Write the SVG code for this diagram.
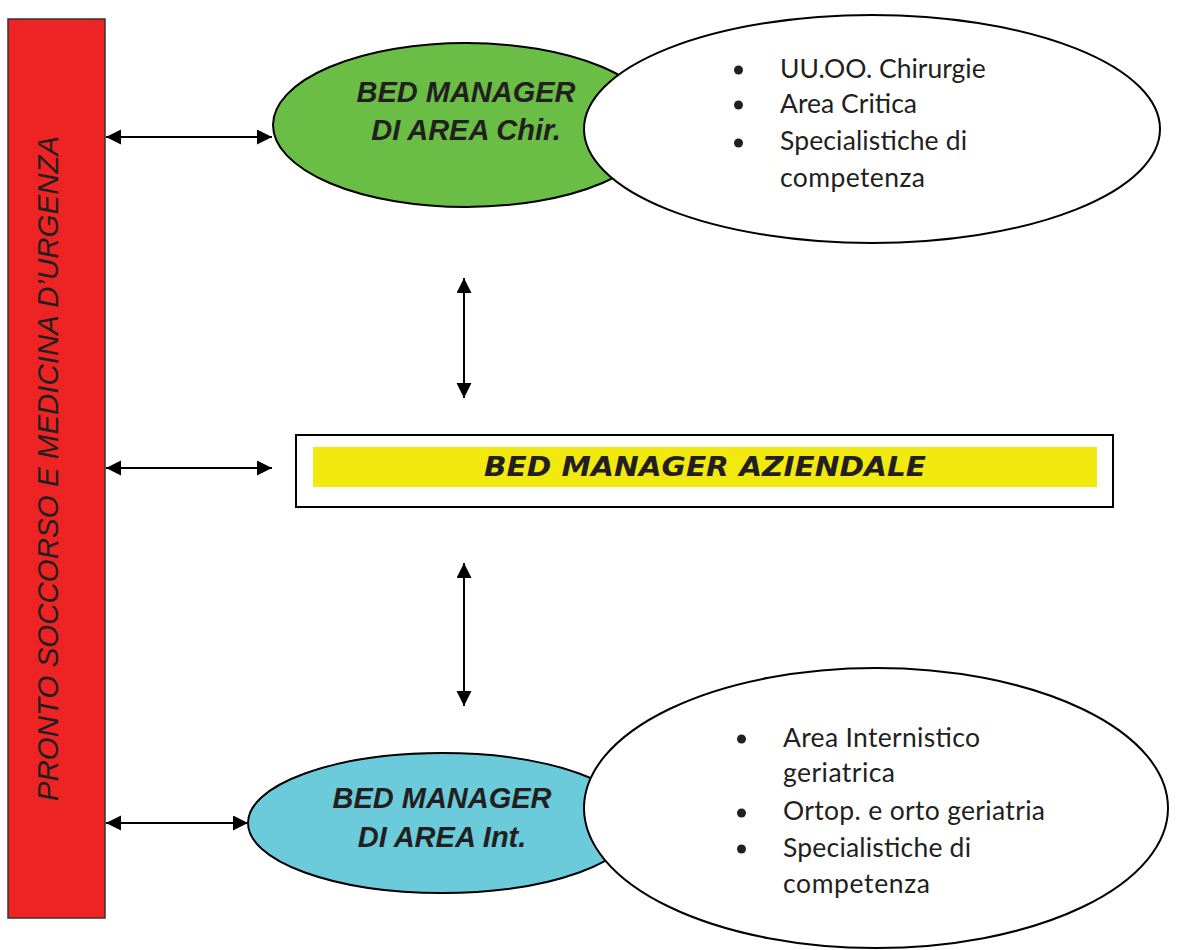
<svg xmlns="http://www.w3.org/2000/svg" width="1186" height="950" viewBox="0 0 1186 950">
<style>
.lbl{font-family:"Liberation Sans",Arial,sans-serif;font-weight:bold;font-style:italic;font-size:29px;fill:#231f20;text-anchor:middle}
.lst{font-family:Lato,"Open Sans",sans-serif;font-size:26.5px;fill:#231f20}
.bul{fill:#231f20}
.conn{stroke:#000;stroke-width:2;fill:none;marker-start:url(#ah);marker-end:url(#ah)}
.ell{stroke:#000;stroke-width:2}
</style>
<defs>
<marker id="ah" markerUnits="userSpaceOnUse" markerWidth="16" markerHeight="16" viewBox="0 0 16 16" refX="15" refY="7.5" orient="auto-start-reverse">
<path d="M0,0 L15,7.5 L0,15 z" fill="#000"/>
</marker>
</defs>
<rect width="1186" height="950" fill="#fff"/>
<g id="pronto-soccorso">
<rect x="8" y="19" width="97" height="899" fill="#ee2424" stroke="#333" stroke-width="1.5"/>
<text transform="translate(58,468.5) rotate(-90)" font-family="Liberation Sans,Arial,sans-serif" font-style="italic" font-size="29.5" fill="#231f20" text-anchor="middle">PRONTO SOCCORSO E MEDICINA D’URGENZA</text>
</g>
<g id="bm-chir">
<ellipse class="ell" cx="466" cy="125" rx="193" ry="82" fill="#6abd45"/>
<text class="lbl" x="466" y="102">BED MANAGER</text>
<text class="lbl" x="466" y="140">DI AREA Chir.</text>
</g>
<g id="list-chir">
<ellipse class="ell" cx="872" cy="129" rx="288" ry="114" fill="#fff"/>
<circle class="bul" cx="738.5" cy="70" r="4.5"/>
<text class="lst" x="780" y="78">UU.OO. Chirurgie</text>
<circle class="bul" cx="738.5" cy="105" r="4.5"/>
<text class="lst" x="780" y="113" textLength="137" lengthAdjust="spacing">Area Critica</text>
<circle class="bul" cx="738.5" cy="143" r="4.5"/>
<text class="lst" x="780" y="150" textLength="187" lengthAdjust="spacing">Specialistiche di</text>
<text class="lst" x="780" y="187" textLength="145" lengthAdjust="spacing">competenza</text>
</g>
<g id="bm-aziendale">
<rect x="296" y="435" width="817" height="72" fill="#fff" stroke="#000" stroke-width="2"/>
<rect x="313" y="447" width="784" height="40" fill="#f2ea0e"/>
<text x="705" y="476" font-family="DejaVu Sans,sans-serif" font-weight="bold" font-style="italic" font-size="27" fill="#231f20" text-anchor="middle" textLength="442" lengthAdjust="spacingAndGlyphs">BED MANAGER AZIENDALE</text>
</g>
<g id="bm-int">
<ellipse class="ell" cx="442" cy="823" rx="194" ry="70" fill="#6bcbdb"/>
<text class="lbl" x="442" y="808">BED MANAGER</text>
<text class="lbl" x="442" y="847">DI AREA Int.</text>
</g>
<g id="list-int">
<ellipse class="ell" cx="876" cy="808" rx="292" ry="140" fill="#fff"/>
<circle class="bul" cx="741.5" cy="739" r="4.5"/>
<text class="lst" x="783" y="747" textLength="197" lengthAdjust="spacing">Area Internistico</text>
<text class="lst" x="783" y="782" textLength="112" lengthAdjust="spacing">geriatrica</text>
<circle class="bul" cx="741.5" cy="813" r="4.5"/>
<text class="lst" x="783" y="820" textLength="262" lengthAdjust="spacing">Ortop. e orto geriatria</text>
<circle class="bul" cx="741.5" cy="849" r="4.5"/>
<text class="lst" x="783" y="857" textLength="188" lengthAdjust="spacing">Specialistiche di</text>
<text class="lst" x="783" y="893" textLength="147" lengthAdjust="spacing">competenza</text>
</g>
<g id="connectors">
<line class="conn" x1="106" y1="137" x2="272" y2="137"/>
<line class="conn" x1="106" y1="468" x2="272" y2="468"/>
<line class="conn" x1="106" y1="823" x2="248" y2="823"/>
<line class="conn" x1="464" y1="278" x2="464" y2="398"/>
<line class="conn" x1="464" y1="563" x2="464" y2="706"/>
</g>
</svg>
